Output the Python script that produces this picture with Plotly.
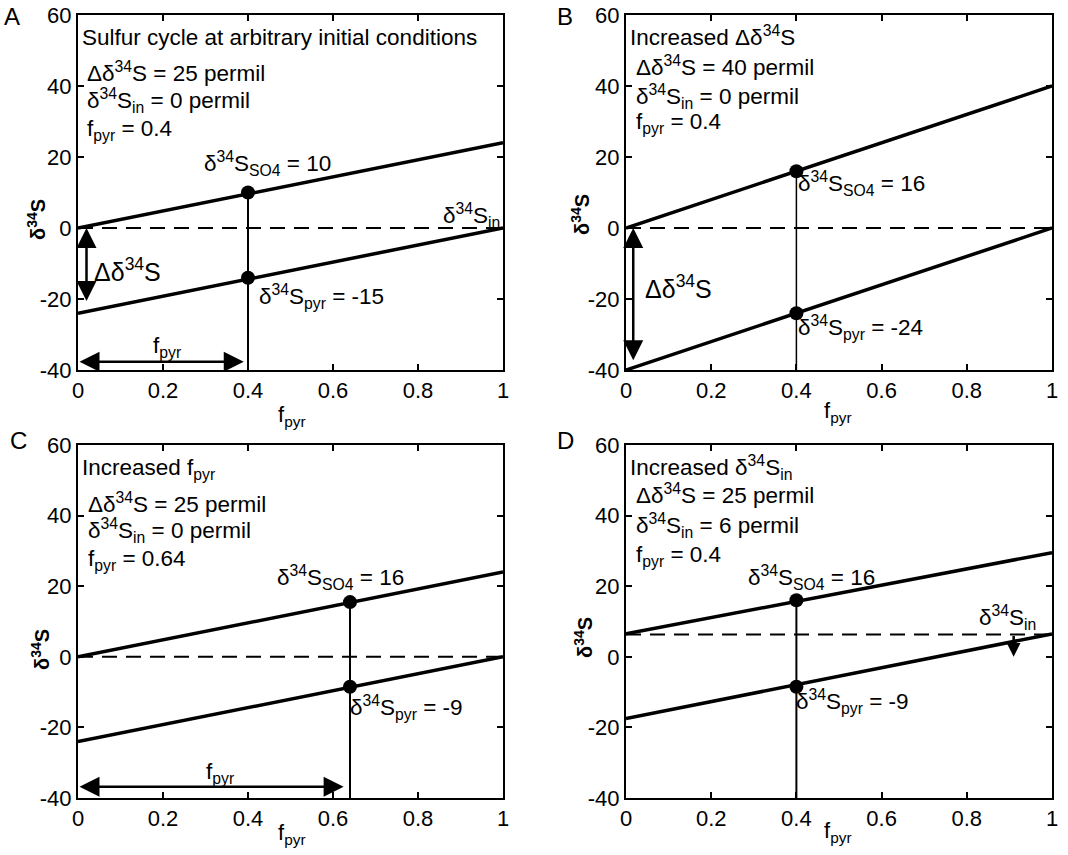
import plotly.graph_objects as go

# ---------------- data ----------------
f_ends = [0, 1]
x_ticks = [0, 0.2, 0.4, 0.6, 0.8, 1]
x_tick_labels = ["0", "0.2", "0.4", "0.6", "0.8", "1"]
y_ticks = [-40, -20, 0, 20, 40, 60]
y_tick_labels = ["-40", "-20", "0", "20", "40", "60"]

# Panel A: arbitrary initial conditions
a_so4 = [0, 24]
a_pyr = [-24, 0]
a_fpyr = 0.4
a_dots = [10, -14]
a_in = 0

# Panel B: increased fractionation
b_so4 = [0, 40]
b_pyr = [-40, 0]
b_fpyr = 0.4
b_dots = [16, -24]
b_in = 0

# Panel C: increased f_pyr
c_so4 = [0, 24]
c_pyr = [-24, 0]
c_fpyr = 0.64
c_dots = [15.5, -8.5]
c_in = 0

# Panel D: increased input isotope ratio
d_so4 = [6.5, 29.5]
d_pyr = [-17.5, 6.5]
d_fpyr = 0.4
d_dots = [16, -8.5]
d_in = 6.3

FONT = "Liberation Sans, Arial, sans-serif"
BLACK = "black"
TXT = 22.5

fig = go.Figure()

# pixel-based domains (1068 x 855 canvas)
W, H = 1068, 855
col_px = [(78, 503), (626, 1052)]
row_px = [(15, 370), (445, 798)]

panels = [
    dict(name="A", so4=a_so4, pyr=a_pyr, f=a_fpyr, dots=a_dots, din=a_in, col=0, row=0, vw=2),
    dict(name="B", so4=b_so4, pyr=b_pyr, f=b_fpyr, dots=b_dots, din=b_in, col=1, row=0, vw=1.5),
    dict(name="C", so4=c_so4, pyr=c_pyr, f=c_fpyr, dots=c_dots, din=c_in, col=0, row=1, vw=2),
    dict(name="D", so4=d_so4, pyr=d_pyr, f=d_fpyr, dots=d_dots, din=d_in, col=1, row=1, vw=2),
]

annotations = []
for i, p in enumerate(panels):
    n = "" if i == 0 else str(i + 1)
    xa, ya = "x" + n, "y" + n
    x0, x1 = col_px[p["col"]]
    y0, y1 = row_px[p["row"]]
    fig.update_layout(**{
        "xaxis" + n: dict(
            domain=[x0 / W, x1 / W], anchor=ya, range=[0, 1],
            tickvals=x_ticks, ticktext=x_tick_labels,
            showline=True, linecolor=BLACK, linewidth=2, mirror="ticks",
            ticks="inside", ticklen=6, tickwidth=2, tickcolor=BLACK,
            showgrid=False, zeroline=False, automargin=False,
            tickfont=dict(family=FONT, size=22, color=BLACK),
        ),
        "yaxis" + n: dict(
            domain=[1 - y1 / H, 1 - y0 / H], anchor=xa, range=[-40, 60],
            tickvals=y_ticks, ticktext=y_tick_labels,
            showline=True, linecolor=BLACK, linewidth=2, mirror="ticks",
            ticks="inside", ticklen=6, tickwidth=2, tickcolor=BLACK,
            showgrid=False, zeroline=False, automargin=False,
            tickfont=dict(family=FONT, size=22, color=BLACK),
        ),
    })
    # dashed input line
    fig.add_trace(go.Scatter(x=f_ends, y=[p["din"], p["din"]], xaxis=xa, yaxis=ya,
                             mode="lines", line=dict(color=BLACK, width=2, dash="15px,9px"),
                             showlegend=False, hoverinfo="skip"))
    # sulfate and pyrite lines
    fig.add_trace(go.Scatter(x=f_ends, y=p["so4"], xaxis=xa, yaxis=ya, mode="lines",
                             line=dict(color=BLACK, width=3.5), showlegend=False))
    fig.add_trace(go.Scatter(x=f_ends, y=p["pyr"], xaxis=xa, yaxis=ya, mode="lines",
                             line=dict(color=BLACK, width=3.5), showlegend=False))
    # vertical line at f_pyr
    fig.add_trace(go.Scatter(x=[p["f"], p["f"]], y=[-40, p["dots"][0]], xaxis=xa, yaxis=ya,
                             mode="lines", line=dict(color=BLACK, width=p["vw"]),
                             showlegend=False))
    # dots
    fig.add_trace(go.Scatter(x=[p["f"], p["f"]], y=p["dots"], xaxis=xa, yaxis=ya,
                             mode="markers", marker=dict(color=BLACK, size=14),
                             showlegend=False))

    # panel letter
    lx = {"A": 12, "B": 565, "C": 18, "D": 565}[p["name"]]
    ly = 17 if p["row"] == 0 else 440
    annotations.append(dict(x=lx / W, y=1 - ly / H, xref="paper", yref="paper",
                            text=p["name"], showarrow=False, xanchor="center", yanchor="middle",
                            font=dict(family=FONT, size=24, color=BLACK)))
    # y title
    ytx = {"A": 36, "B": 580, "C": 40, "D": 583}[p["name"]]
    yty = {"A": 220, "B": 215, "C": 650, "D": 637}[p["name"]]
    annotations.append(dict(x=ytx / W, y=1 - yty / H, xref="paper", yref="paper",
                            text="<b>δ<sup>34</sup>S</b>", textangle=-90, showarrow=False,
                            xanchor="center", yanchor="middle",
                            font=dict(family=FONT, size=20, color=BLACK)))
    # x title
    xtx = 292 if p["col"] == 0 else 838
    xty = {"A": 416, "B": 412, "C": 834, "D": 832}[p["name"]]
    annotations.append(dict(x=xtx / W, y=1 - xty / H, xref="paper", yref="paper",
                            text="f<sub>pyr</sub>", showarrow=False,
                            xanchor="center", yanchor="middle",
                            font=dict(family=FONT, size=22, color=BLACK)))


def txt(ax, x, y, text, size=TXT, xanchor="left"):
    n = "" if ax == 1 else str(ax)
    annotations.append(dict(x=x, y=y, xref="x" + n, yref="y" + n, text=text,
                            showarrow=False, xanchor=xanchor, yanchor="middle",
                            borderpad=0,
                            font=dict(family=FONT, size=size, color=BLACK)))


def arrow(ax, xh, yh, xt, yt, both=True, size=1.6):
    n = "" if ax == 1 else str(ax)
    annotations.append(dict(x=xh, y=yh, ax=xt, ay=yt, xref="x" + n, yref="y" + n,
                            axref="x" + n, ayref="y" + n, text="", showarrow=True,
                            arrowhead=2, startarrowhead=2, arrowsize=size, startarrowsize=size,
                            arrowwidth=2.5, arrowcolor=BLACK,
                            arrowside="end+start" if both else "end",
                            standoff=0, startstandoff=0))


# Panel A texts
txt(1, 0.006, 53.8, "Sulfur cycle at arbitrary initial conditions")
txt(1, 0.018, 44, "Δδ<sup>34</sup>S = 25 permil")
txt(1, 0.018, 36, "δ<sup>34</sup>S<sub>in</sub> = 0 permil")
txt(1, 0.018, 27.6, "f<sub>pyr</sub> = 0.4")
txt(1, 0.295, 18.3, "δ<sup>34</sup>S<sub>SO4</sub> = 10")
txt(1, 0.424, -19.4, "δ<sup>34</sup>S<sub>pyr</sub> = -15")
txt(1, 0.995, 3.6, "δ<sup>34</sup>S<sub>in</sub>", xanchor="right")
txt(1, 0.035, -11.8, "Δδ<sup>34</sup>S", size=25)
txt(1, 0.21, -33.5, "f<sub>pyr</sub>", xanchor="center")
arrow(1, 0.02, 0, 0.02, -21)
arrow(1, 0.39, -37.7, 0.0, -37.7)

# Panel B texts
txt(2, 0.006, 54, "Increased Δδ<sup>34</sup>S")
txt(2, 0.022, 45.6, "Δδ<sup>34</sup>S = 40 permil")
txt(2, 0.022, 37, "δ<sup>34</sup>S<sub>in</sub> = 0 permil")
txt(2, 0.022, 29.6, "f<sub>pyr</sub> = 0.4")
txt(2, 0.402, 12.4, "δ<sup>34</sup>S<sub>SO4</sub> = 16")
txt(2, 0.402, -28, "δ<sup>34</sup>S<sub>pyr</sub> = -24")
txt(2, 0.042, -16.6, "Δδ<sup>34</sup>S", size=25)
arrow(2, 0.017, 0, 0.017, -37.7)

# Panel C texts
txt(3, 0.008, 53.3, "Increased f<sub>pyr</sub>")
txt(3, 0.02, 43.6, "Δδ<sup>34</sup>S = 25 permil")
txt(3, 0.02, 35.7, "δ<sup>34</sup>S<sub>in</sub> = 0 permil")
txt(3, 0.02, 27.5, "f<sub>pyr</sub> = 0.64")
txt(3, 0.465, 22.6, "δ<sup>34</sup>S<sub>SO4</sub> = 16")
txt(3, 0.637, -14.5, "δ<sup>34</sup>S<sub>pyr</sub> = -9")
txt(3, 0.335, -33, "f<sub>pyr</sub>", xanchor="center")
arrow(3, 0.625, -36.8, 0.0, -36.8)

# Panel D texts
txt(4, 0.006, 53.5, "Increased δ<sup>34</sup>S<sub>in</sub>")
txt(4, 0.022, 46, "Δδ<sup>34</sup>S = 25 permil")
txt(4, 0.022, 37.3, "δ<sup>34</sup>S<sub>in</sub> = 6 permil")
txt(4, 0.022, 28.6, "f<sub>pyr</sub> = 0.4")
txt(4, 0.283, 22.6, "δ<sup>34</sup>S<sub>SO4</sub> = 16")
txt(4, 0.397, -12.7, "δ<sup>34</sup>S<sub>pyr</sub> = -9")
txt(4, 0.965, 11.2, "δ<sup>34</sup>S<sub>in</sub>", xanchor="right")
arrow(4, 0.91, 0, 0.91, 6.3, both=False, size=1.1)

fig.update_layout(
    width=W, height=H,
    margin=dict(l=0, r=0, t=0, b=0, autoexpand=False),
    paper_bgcolor="white", plot_bgcolor="white",
    showlegend=False,
    annotations=annotations,
    font=dict(family=FONT, color=BLACK),
)

fig.write_html("out.html")
